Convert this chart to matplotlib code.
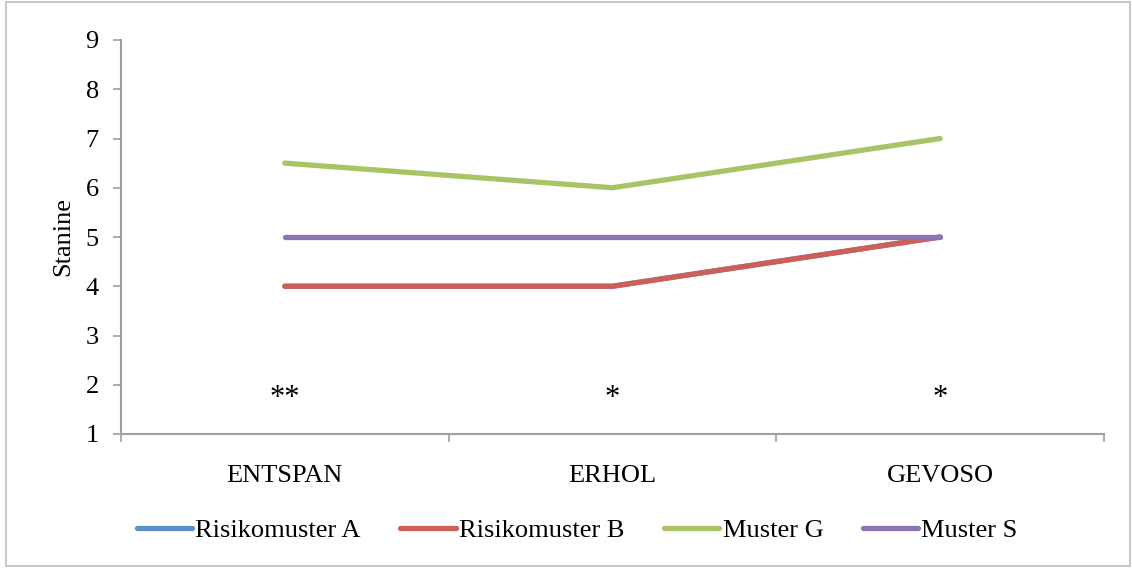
import matplotlib
matplotlib.use("Agg")
import matplotlib.pyplot as plt
from matplotlib.patches import Rectangle
import numpy as np

categories = ['ENTSPAN', 'ERHOL', 'GEVOSO']
risiko_a = [4, 4, 5]
risiko_b = [4, 4, 5]
muster_g = [6.5, 6, 7]
muster_s = [5, 5, 5]
stars = ['**', '*', '*']
star_y = 1.73

plt.rcParams['font.family'] = ['Liberation Serif', 'DejaVu Serif']

fig = plt.figure(figsize=(11.32, 5.68), dpi=100)
fig.patches.append(Rectangle((6 / 1132, 2 / 568), 1124 / 1132, 564 / 568, transform=fig.transFigure,
                             fill=False, edgecolor='#bfbfbf', linewidth=1.2))
ax = fig.add_axes([121 / 1132, 134 / 568, 983 / 1132, 394 / 568])

x = np.arange(len(categories))
lw = 3.8
ax.plot(x, risiko_a, color='#5b8fc7', lw=lw, solid_capstyle='round', label='Risikomuster A')
ax.plot(x, risiko_b, color='#cd5f58', lw=lw, solid_capstyle='round', label='Risikomuster B')
ax.plot(x, muster_g, color='#a8c466', lw=lw, solid_capstyle='round', label='Muster G')
ax.plot(x, muster_s, color='#8d74b2', lw=lw, solid_capstyle='round', label='Muster S')

for i, s in enumerate(stars):
    ax.text(x[i], star_y, s, ha='center', va='center', fontsize=22)

ax.set_xlim(-0.5, 2.5)
ax.set_ylim(1, 9)
ax.set_yticks(range(1, 10))
ax.set_xticks(x)
ax.set_xticklabels(categories)
ax.set_xticks([-0.5, 0.5, 1.5, 2.5], minor=True)
ax.tick_params(axis='x', which='major', length=0, pad=22, labelsize=19)
ax.tick_params(axis='x', which='minor', length=6, color='#a0a0a0', width=1.2)
ax.tick_params(axis='y', length=6, color='#a0a0a0', width=1.2, pad=10, labelsize=19)
for side in ['top', 'right']:
    ax.spines[side].set_visible(False)
for side in ['left', 'bottom']:
    ax.spines[side].set_color('#a0a0a0')
    ax.spines[side].set_linewidth(1.5)

ax.set_ylabel('Stanine', fontsize=19, labelpad=8)

fig.legend(loc='center', bbox_to_anchor=(0.51, 0.066), ncol=4, frameon=False, fontsize=19,
           handlelength=2.1, handletextpad=0.12, columnspacing=1.5)

fig.savefig('out.png', dpi=100)
